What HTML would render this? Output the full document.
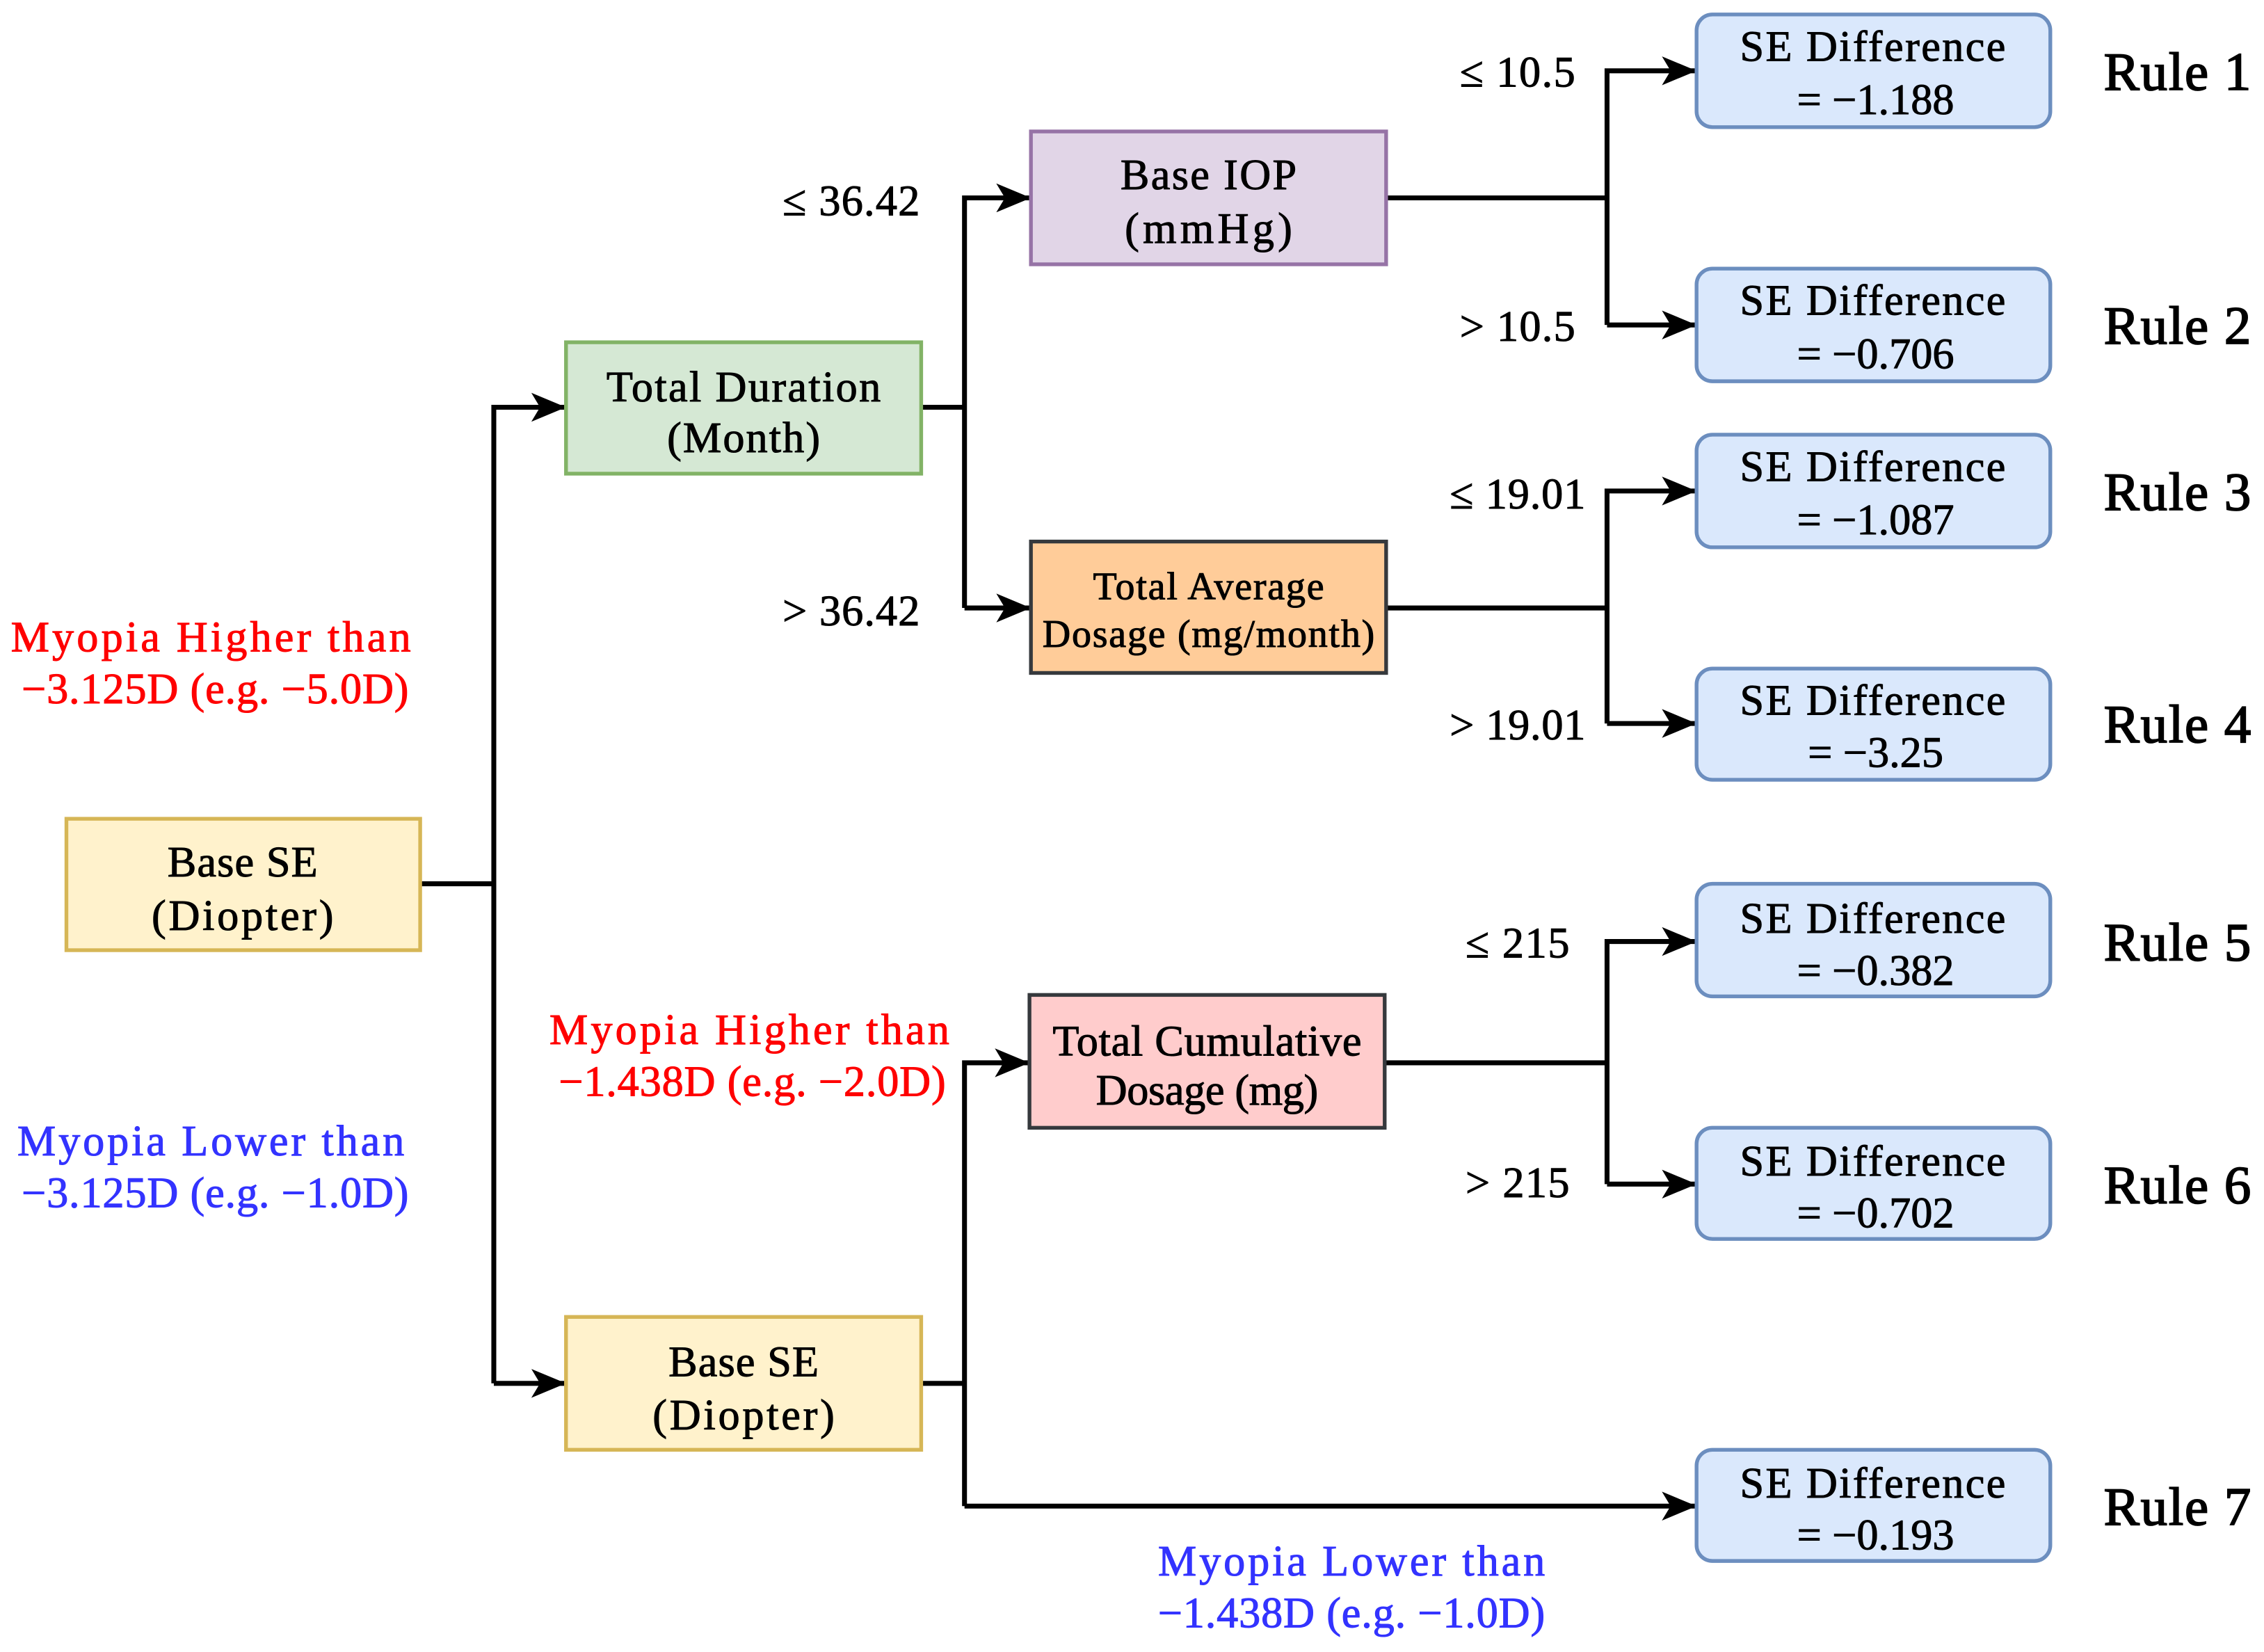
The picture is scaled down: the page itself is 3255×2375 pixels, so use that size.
<!DOCTYPE html>
<html><head><meta charset="utf-8"><style>html,body{margin:0;padding:0;background:#fff}svg{display:block}</style></head>
<body>
<svg width="3255" height="2375" viewBox="0 0 1568 1144" xmlns="http://www.w3.org/2000/svg" font-family="'Liberation Serif', serif">
<defs>
<marker id="a" viewBox="0 0 24 20" refX="23" refY="10" markerWidth="24" markerHeight="20" markerUnits="userSpaceOnUse" orient="auto">
<path d="M0,0 L24,10 L0,20 L6,10 Z" fill="#000"/>
</marker>
</defs>
<g fill="none" stroke="#000" stroke-width="3.4">
<path d="M291,612 H342"/>
<path d="M342,958 V282 H391" marker-end="url(#a)"/>
<path d="M342,958 H391" marker-end="url(#a)"/>
<path d="M638,282 H668"/>
<path d="M668,421 V137 H713" marker-end="url(#a)"/>
<path d="M668,421 H713" marker-end="url(#a)"/>
<path d="M638,958 H668"/>
<path d="M668,1043 V736 H712" marker-end="url(#a)"/>
<path d="M668,1043 H1174" marker-end="url(#a)"/>
<path d="M960,137 H1113"/>
<path d="M1113,225 V49 H1174" marker-end="url(#a)"/>
<path d="M1113,225 H1174" marker-end="url(#a)"/>
<path d="M960,421 H1113"/>
<path d="M1113,501 V340 H1174" marker-end="url(#a)"/>
<path d="M1113,501 H1174" marker-end="url(#a)"/>
<path d="M959,736 H1113"/>
<path d="M1113,820 V652 H1174" marker-end="url(#a)"/>
<path d="M1113,820 H1174" marker-end="url(#a)"/>
</g>
<g stroke-width="2.6">
<rect x="46" y="567" width="245" height="91" fill="#fff2cc" stroke="#d6b656"/>
<rect x="392" y="237" width="246" height="91" fill="#d5e8d4" stroke="#82b366"/>
<rect x="392" y="912" width="246" height="92" fill="#fff2cc" stroke="#d6b656"/>
<rect x="714" y="91" width="246" height="92" fill="#e1d5e7" stroke="#9673a6"/>
<rect x="714" y="375" width="246" height="91" fill="#ffcc99" stroke="#36393d"/>
<rect x="713" y="689" width="246" height="92" fill="#ffcccc" stroke="#36393d"/>
<g fill="#dae8fc" stroke="#6c8ebf">
<rect x="1175" y="10" width="245" height="78" rx="11"/>
<rect x="1175" y="186" width="245" height="78" rx="11"/>
<rect x="1175" y="301" width="245" height="78" rx="11"/>
<rect x="1175" y="463" width="245" height="77" rx="11"/>
<rect x="1175" y="612" width="245" height="78" rx="11"/>
<rect x="1175" y="781" width="245" height="77" rx="11"/>
<rect x="1175" y="1004" width="245" height="77" rx="11"/>
</g>
</g>
<g font-size="30" text-anchor="middle" fill="#000" stroke="#000" stroke-width="0.5">
<text x="168" y="607" textLength="104">Base SE</text><text x="168" y="644" textLength="126">(Diopter)</text>
<text x="515" y="278" textLength="190">Total Duration</text><text x="515" y="313" textLength="106">(Month)</text>
<text x="515" y="953" textLength="104">Base SE</text><text x="515" y="990" textLength="126">(Diopter)</text>
<text x="837" y="131" textLength="122">Base IOP</text><text x="837" y="168" textLength="116">(mmHg)</text>
<text x="837" y="415" font-size="27" textLength="160">Total Average</text><text x="837" y="448" font-size="27" textLength="230">Dosage (mg/month)</text>
<text x="836" y="731" textLength="214">Total Cumulative</text><text x="836" y="765" textLength="154">Dosage (mg)</text>
<text x="1297" y="42" textLength="184">SE Difference</text><text x="1299" y="79">= −1.188</text>
<text x="1297" y="218" textLength="184">SE Difference</text><text x="1299" y="255">= −0.706</text>
<text x="1297" y="333" textLength="184">SE Difference</text><text x="1299" y="370">= −1.087</text>
<text x="1297" y="495" textLength="184">SE Difference</text><text x="1299" y="531">= −3.25</text>
<text x="1297" y="646" textLength="184">SE Difference</text><text x="1299" y="682">= −0.382</text>
<text x="1297" y="814" textLength="184">SE Difference</text><text x="1299" y="850">= −0.702</text>
<text x="1297" y="1037" textLength="184">SE Difference</text><text x="1299" y="1073">= −0.193</text>
</g>
<g font-size="37" fill="#000" stroke="#000" stroke-width="0.9" text-anchor="middle">
<text x="1508" y="62" textLength="102">Rule 1</text>
<text x="1508" y="238" textLength="102">Rule 2</text>
<text x="1508" y="353" textLength="102">Rule 3</text>
<text x="1508" y="514" textLength="102">Rule 4</text>
<text x="1508" y="665" textLength="102">Rule 5</text>
<text x="1508" y="833" textLength="102">Rule 6</text>
<text x="1508" y="1056" textLength="102">Rule 7</text>
</g>
<g font-size="30" fill="#000" stroke="#000" stroke-width="0.5" text-anchor="end">
<text x="637" y="149" textLength="95">≤ 36.42</text>
<text x="637" y="433" textLength="95">&gt; 36.42</text>
<text x="1091" y="60" textLength="80">≤ 10.5</text>
<text x="1091" y="236" textLength="80">&gt; 10.5</text>
<text x="1098" y="352" textLength="94">≤ 19.01</text>
<text x="1098" y="512" textLength="94">&gt; 19.01</text>
<text x="1087" y="663" textLength="72">≤ 215</text>
<text x="1087" y="829" textLength="72">&gt; 215</text>
</g>
<g font-size="30" text-anchor="middle" stroke-width="0.5">
<g fill="#ff0000" stroke="#ff0000">
<text x="146" y="451" textLength="277">Myopia Higher than</text><text x="149" y="487" textLength="268">−3.125D (e.g. −5.0D)</text>
<text x="519" y="723" textLength="277">Myopia Higher than</text><text x="521" y="759" textLength="268">−1.438D (e.g. −2.0D)</text>
</g>
<g fill="#3333ff" stroke="#3333ff">
<text x="146" y="800" textLength="268">Myopia Lower than</text><text x="149" y="836" textLength="268">−3.125D (e.g. −1.0D)</text>
<text x="936" y="1091" textLength="268">Myopia Lower than</text><text x="936" y="1127" textLength="268">−1.438D (e.g. −1.0D)</text>
</g>
</g>
</svg>
</body></html>
